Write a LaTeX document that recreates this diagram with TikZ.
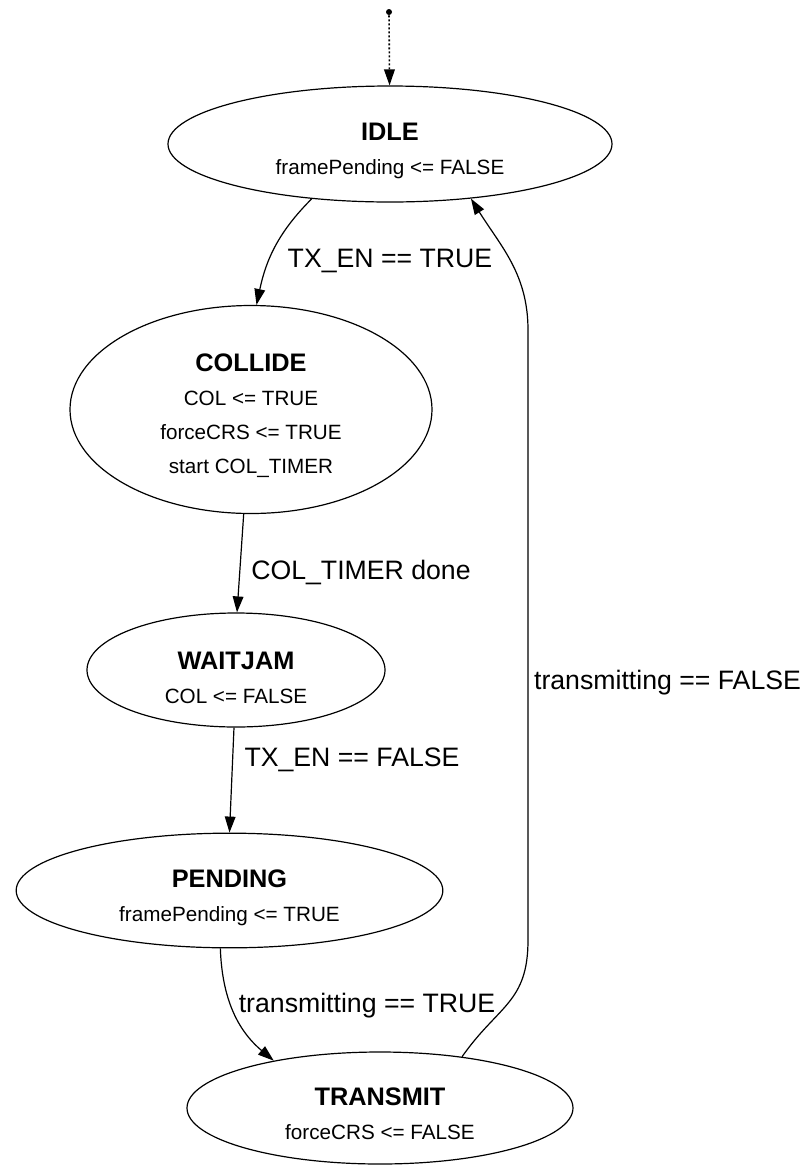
\documentclass[tikz,border=0pt]{standalone}
\usepackage{fontspec}
\setmainfont{Liberation Sans}
\usetikzlibrary{shapes.geometric, arrows.meta}

\begin{document}
\begin{tikzpicture}[x=0.75pt, y=-0.75pt,
	state/.style={draw, ellipse, line width=0.9pt, inner sep=0pt},
	statetxt/.style={align=center, anchor=base, font=\fontsize{15.5}{25.5}\selectfont},
	lbl/.style={anchor=base, font=\fontsize{20}{24}\selectfont},
	edge/.style={line width=0.9pt, -{Triangle[length=12pt, width=8pt]}}]
			\useasboundingbox (0, 0) rectangle (811, 1165);
			% states
			\node [state, minimum width=333pt, minimum height=87pt] (idle) at (390, 144) {};
			\node [state, minimum width=271.5pt, minimum height=156pt] (collide) at (251, 409.5) {};
			\node [state, minimum width=223.5pt, minimum height=85.5pt] (waitjam) at (236, 670) {};
			\node [state, minimum width=320pt, minimum height=86pt] (pending) at (229.5, 890.5) {};
			\node [state, minimum width=289.5pt, minimum height=84pt] (transmit) at (380, 1108) {};
			\node [statetxt, yshift=-23pt] (idletxt) at (idle) {\textbf{\fontsize{19}{25.5}\selectfont IDLE}\\framePending <= FALSE};
			\node [statetxt, yshift=-48pt] (collidetxt) at (collide) {\textbf{\fontsize{19}{25.5}\selectfont COLLIDE}\\COL <= TRUE\\forceCRS <= TRUE\\start COL\_TIMER};
			\node [statetxt, yshift=-25pt] (waitjamtxt) at (waitjam) {\textbf{\fontsize{19}{25.5}\selectfont WAITJAM}\\COL <= FALSE};
			\node [statetxt, yshift=-23.25pt] (pendingtxt) at (pending) {\textbf{\fontsize{19}{25.5}\selectfont PENDING}\\framePending <= TRUE};
			\node [statetxt, yshift=-23.5pt] (transmittxt) at (transmit) {\textbf{\fontsize{19}{25.5}\selectfont TRANSMIT}\\forceCRS <= FALSE};
			% start
			\node [fill, circle, inner sep=0pt, minimum size=4.5pt] (init) at (389, 12) {};
			\draw [line width=1.2pt, dash pattern=on 1.5pt off 1.5pt, -{Triangle[length=12pt, width=8pt]}] (init) -- (idle);
			% transitions
			\draw [edge] (idle.215) to [out=225, in=78] (collide.87);
			\draw [edge] (collide.-94) -- (waitjam.89);
			\draw [edge] (waitjam.-92) -- (pending.90);
			\draw [edge] (pending.-99) to [out=-88, in=140] (transmit.156);
			\coordinate (backlow) at (528, 940);
			\coordinate (backhigh) at (528, 330);
			\draw [edge] (transmit.32) to [out=55, in=-90, looseness=1.2] (backlow) -- (backhigh) to [out=90, in=-58] (idle.-34);
			\node [lbl] (txon) at (390, 267) {TX\_EN == TRUE};
			\node [lbl] (timerdone) at (361, 579.5) {COL\_TIMER done};
			\node [lbl] (txoff) at (352, 766.5) {TX\_EN == FALSE};
			\node [lbl] (txing) at (367, 1012.5) {transmitting == TRUE};
			\node [lbl] (txdone) at (667.5, 689.5) {transmitting == FALSE};
		\end{tikzpicture}
\end{document}
